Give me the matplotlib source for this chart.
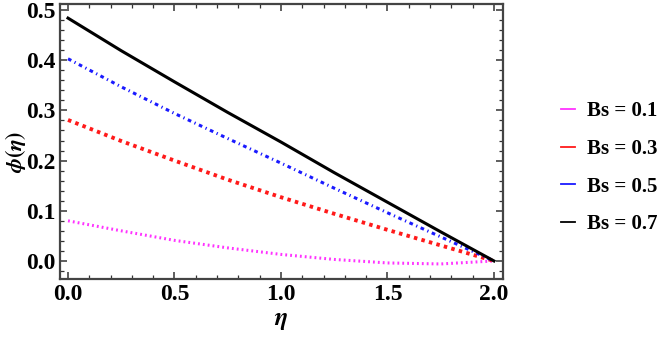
import matplotlib.pyplot as plt
from matplotlib.lines import Line2D
from matplotlib.ticker import MultipleLocator

# datos
eta = [0.0, 0.25, 0.5, 0.75, 1.0, 1.25, 1.5, 1.75, 2.0]
phi_01 = [0.080, 0.060, 0.041, 0.026, 0.013, 0.003, -0.004, -0.006, 0.0]
phi_03 = [0.281, 0.239, 0.200, 0.162, 0.127, 0.094, 0.062, 0.031, 0.0]
phi_05 = [0.403, 0.347, 0.294, 0.244, 0.195, 0.145, 0.096, 0.048, 0.0]
phi_07 = [0.484, 0.419, 0.357, 0.296, 0.237, 0.176, 0.117, 0.058, 0.0]
labels = ['Bs = 0.1', 'Bs = 0.3', 'Bs = 0.5', 'Bs = 0.7']
colors = ['#ff33ff', '#ff1a1a', '#1a1aff', 'black']

plt.rcParams['font.family'] = ['Liberation Serif', 'DejaVu Serif']
plt.rcParams['font.weight'] = 'bold'
plt.rcParams['mathtext.fontset'] = 'stix'

fig = plt.figure(figsize=(6.69, 3.39), dpi=100)
ax = fig.add_axes([0.0897, 0.177, 0.662, 0.811])

ax.plot(eta, phi_01, color=colors[0], lw=2.2, linestyle=(0, (0.6, 1.0)))
ax.plot(eta, phi_03, color=colors[1], lw=2.8, linestyle=(0, (0.9, 1.1)))
ax.plot(eta, phi_05, color=colors[2], lw=2.2, linestyle=(0, (1.2, 1.2, 0.4, 1.2)))
ax.plot(eta, phi_07, color=colors[3], lw=2.2)

ax.set_xlim(-0.0376, 2.042)
ax.set_ylim(-0.036, 0.512)
ax.xaxis.set_major_locator(MultipleLocator(0.5))
ax.xaxis.set_minor_locator(MultipleLocator(0.1))
ax.yaxis.set_major_locator(MultipleLocator(0.1))
ax.yaxis.set_minor_locator(MultipleLocator(0.02))
ax.xaxis.set_major_formatter(lambda v, p: f'{v:.1f}')
ax.yaxis.set_major_formatter(lambda v, p: f'{v:.1f}')

ax.tick_params(which='both', direction='in', top=True, right=True, labelsize=17, color='#333333')
ax.tick_params(which='major', length=5, width=1.1)
ax.tick_params(which='minor', length=3, width=0.9)
for lbl in ax.get_xticklabels() + ax.get_yticklabels():
    lbl.set_fontweight('bold')
for s in ax.spines.values():
    s.set_linewidth(1.6)
    s.set_color('#444444')

ax.set_xlabel(r'$\boldsymbol{\eta}$', fontsize=18, labelpad=4)
ax.set_ylabel(r'$\boldsymbol{\phi(\eta)}$', fontsize=16)
ax.yaxis.set_label_coords(-0.072, 0.46)

# leyenda al lado derecho
handles = [Line2D([], [], color=c, lw=1.3) for c in colors]
fig.legend(handles, labels, loc='center left', bbox_to_anchor=(0.81, 0.505),
           frameon=False, handlelength=0.7, handletextpad=0.55,
           labelspacing=0.85, prop={'weight': 'bold', 'size': 15})

fig.savefig('out.png', dpi=100)
